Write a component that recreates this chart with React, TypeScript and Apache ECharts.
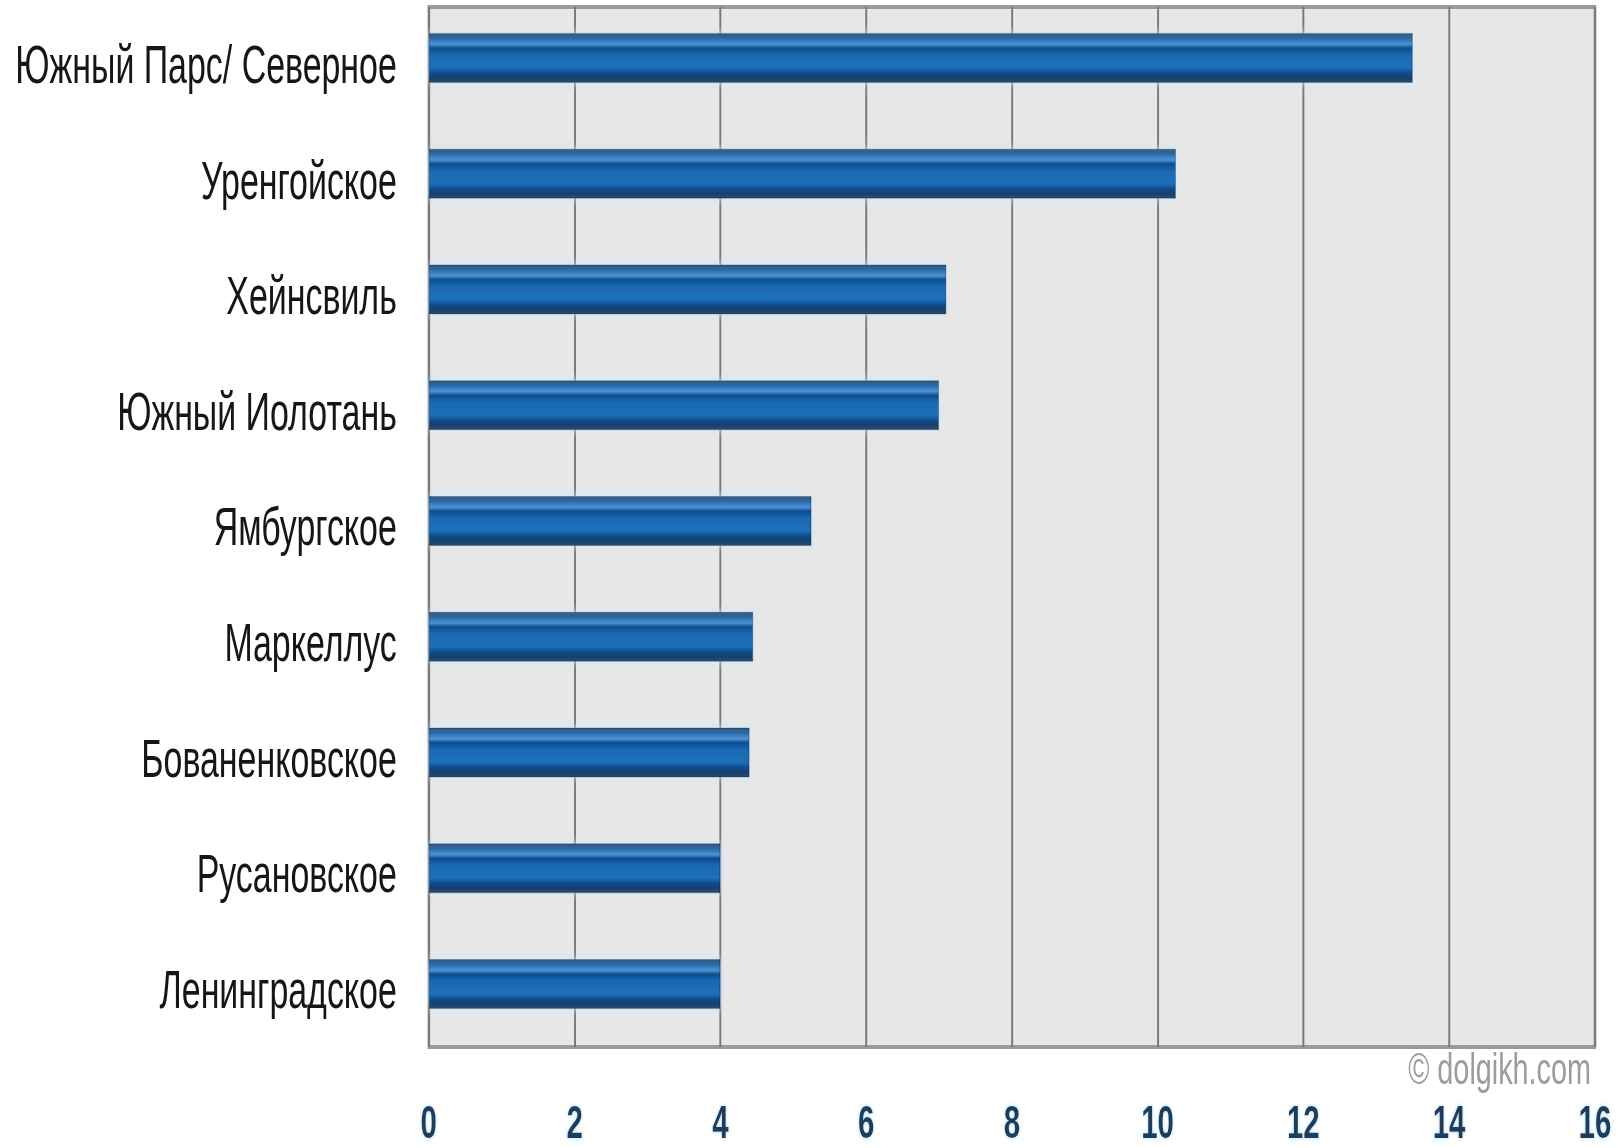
import React, { useEffect, useRef } from "react";
import * as echarts from "echarts";

const categories = [
  "Южный Парс/ Северное",
  "Уренгойское",
  "Хейнсвиль",
  "Южный Иолотань",
  "Ямбургское",
  "Маркеллус",
  "Бованенковское",
  "Русановское",
  "Ленинградское",
];
const values = [13.5, 10.25, 7.1, 7.0, 5.25, 4.45, 4.4, 4.0, 4.0];
const xMin = 0;
const xMax = 16;
const xInterval = 2;
const watermark = "© dolgikh.com";

// The reference picture is horizontally squeezed; the chart is drawn wider and
// compressed with a CSS transform so that texts get the same narrow look.
const SQUEEZE = 0.64;
const OUT_W = 1618;
const OUT_H = 1148;
const IN_W = Math.round(OUT_W / SQUEEZE);

const FONT = "'Liberation Sans', Arial, sans-serif";

export default function App() {
  const ref = useRef<HTMLDivElement>(null);
  useEffect(() => {
    document.body.style.margin = "0";
    const chart = echarts.init(ref.current!, null, { renderer: "svg" });
    chart.setOption({
      animation: false,
      backgroundColor: "#ffffff",
      grid: [
        {
          left: 670,
          right: 36,
          top: 7,
          bottom: 101,
          show: true,
          containLabel: false,
          outerBoundsMode: "none",
          backgroundColor: "#e7e7e7",
          borderColor: "#9a9a9a",
          borderWidth: 4,
        },
        {
          left: 670,
          right: 36,
          top: 0,
          bottom: 106,
          containLabel: false,
          outerBoundsMode: "none",
        },
      ],
      xAxis: [
        {
          gridIndex: 0,
          type: "value",
          min: xMin,
          max: xMax,
          interval: xInterval,
          axisLine: { show: false },
          axisTick: { show: false },
          splitLine: { show: true, lineStyle: { color: "#787878", width: 3 } },
          axisLabel: {
            margin: 55,
            fontSize: 46,
            lineHeight: 40,
            fontWeight: "bold",
            fontFamily: FONT,
            color: "#1f3d5c",
            textShadowColor: "rgba(170,215,245,0.9)",
            textShadowBlur: 5,
          },
        },
        {
          gridIndex: 1,
          type: "value",
          min: xMin,
          max: xMax,
          show: false,
          splitLine: { show: false },
        },
      ],
      yAxis: [
        {
          gridIndex: 0,
          type: "category",
          data: categories,
          inverse: true,
          axisLine: { show: false },
          axisTick: { show: false },
          splitLine: { show: false },
          axisLabel: {
            margin: 50,
            fontSize: 53,
            fontFamily: FONT,
            color: "#161616",
          },
        },
        {
          gridIndex: 1,
          type: "category",
          data: categories,
          inverse: true,
          show: false,
        },
      ],
      series: [
        {
          type: "bar",
          xAxisIndex: 1,
          yAxisIndex: 1,
          data: values,
          barWidth: 50,
          itemStyle: {
            color: new echarts.graphic.LinearGradient(0, 0, 0, 1, [
              { offset: 0, color: "#34597a" },
              { offset: 0.1, color: "#2a6aa8" },
              { offset: 0.22, color: "#4b93d4" },
              { offset: 0.3, color: "#0b4e8e" },
              { offset: 0.45, color: "#1a6ab3" },
              { offset: 0.7, color: "#1d70b8" },
              { offset: 0.8, color: "#0e4f90" },
              { offset: 0.9, color: "#143f6e" },
              { offset: 1, color: "#2b4d6e" },
            ]),
            borderColor: "rgba(10,30,55,0.55)",
            borderWidth: 1,
            shadowColor: "rgba(205,232,255,0.95)",
            shadowBlur: 10,
          },
        },
      ],
      graphic: [
        {
          type: "text",
          right: 42,
          top: 1046,
          style: {
            text: watermark,
            fontSize: 45,
            lineHeight: 40,
            fontFamily: FONT,
            fill: "#9c9c9c",
          },
        },
      ],
    });
    return () => chart.dispose();
  }, []);
  return (
    <div style={{ width: OUT_W, height: OUT_H, overflow: "hidden", position: "relative" }}>
      <div
        style={{
          width: IN_W,
          height: OUT_H,
          transform: `scaleX(${SQUEEZE})`,
          transformOrigin: "0 0",
        }}
      >
        <div ref={ref} style={{ width: IN_W, height: OUT_H }} />
      </div>
    </div>
  );
}
